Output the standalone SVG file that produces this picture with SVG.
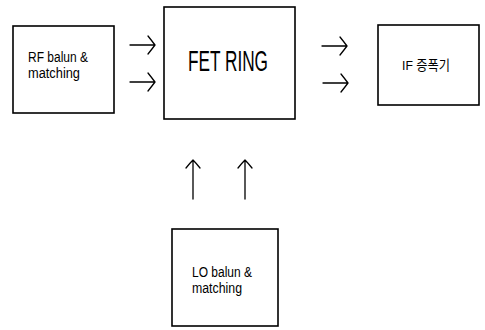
<svg xmlns="http://www.w3.org/2000/svg" width="485" height="330" viewBox="0 0 485 330">
  <style>
    .box { fill: #ffffff; stroke: #000000; stroke-width: 1.6; }
    .lbl { font-family: "Liberation Sans", Arial, sans-serif; fill: #000000; }
    .kr { font-family: "Liberation Sans", "Noto Sans CJK KR", sans-serif; fill: #000000; }
    .wire { fill: none; stroke: #000000; stroke-width: 1.3; stroke-linecap: round; stroke-linejoin: round; }
  </style>
  <rect width="485" height="330" fill="#ffffff"/>

  <g id="rf-balun">
    <rect class="box" x="13" y="26" width="101" height="87"/>
    <text class="lbl" x="28" y="62" font-size="15.5" textLength="60" lengthAdjust="spacingAndGlyphs">RF balun &amp;</text>
    <text class="lbl" x="28" y="78" font-size="15.5" textLength="52" lengthAdjust="spacingAndGlyphs">matching</text>
  </g>

  <g id="fet-ring">
    <rect class="box" x="164" y="7" width="131" height="112"/>
    <text class="lbl" x="188" y="71" font-size="29" textLength="80" lengthAdjust="spacingAndGlyphs">FET RING</text>
  </g>

  <g id="if-amp">
    <rect class="box" x="378" y="25" width="101" height="80"/>
    <text class="kr" x="402" y="70" font-size="13.5" textLength="48" lengthAdjust="spacingAndGlyphs">IF 증폭기</text>
  </g>

  <g id="lo-balun">
    <rect class="box" x="172" y="229" width="106" height="97"/>
    <text class="lbl" x="192" y="277" font-size="15.5" textLength="60" lengthAdjust="spacingAndGlyphs">LO balun &amp;</text>
    <text class="lbl" x="192" y="293" font-size="15.5" textLength="50" lengthAdjust="spacingAndGlyphs">matching</text>
  </g>

  <g id="connectors">
    <!-- RF -> FET RING -->
    <path class="wire" d="M130 45 H155 M148 36 Q152 41 155 45 Q152 49 148 54"/>
    <path class="wire" d="M130 82 H155 M148 73 Q152 78 155 82 Q152 86 148 91"/>
    <!-- FET RING -> IF -->
    <path class="wire" d="M322 46 H347 M340 37 Q344 42 347 46 Q344 50 340 55"/>
    <path class="wire" d="M323 83 H348 M341 74 Q345 79 348 83 Q345 87 341 92"/>
    <!-- LO -> FET RING -->
    <path class="wire" d="M193 199 V160 M186 168 Q190 163 193 160 Q196 163 200 168"/>
    <path class="wire" d="M245 199 V160 M238 168 Q242 163 245 160 Q248 163 252 168"/>
  </g>
</svg>
